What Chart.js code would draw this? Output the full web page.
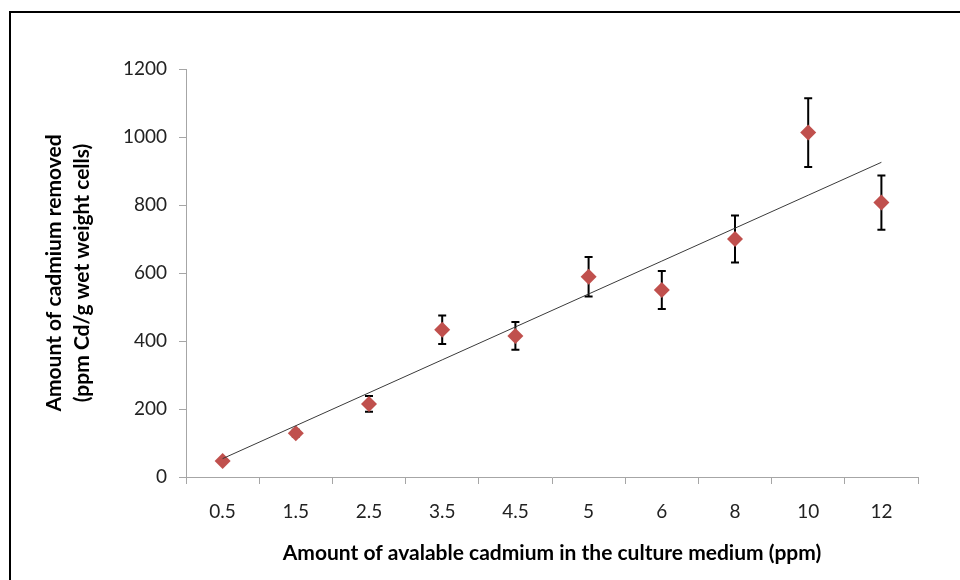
<!DOCTYPE html>
<html>
<head>
<meta charset="utf-8">
<script src="https://cdn.jsdelivr.net/npm/chart.js@4.4.1/dist/chart.umd.min.js"></script>
<style>
  html, body { margin: 0; padding: 0; background: #fff; }
  #wrap { position: relative; width: 960px; height: 580px; }
  #frame { position: absolute; left: 9px; top: 11px; width: 960px; height: 580px;
           border-left: 2px solid #000; border-top: 2px solid #000; pointer-events: none; }
  canvas { position: absolute; left: 0; top: 0; }
</style>
</head>
<body>
<div id="wrap">
  <canvas id="mycanvas" width="960" height="580"></canvas>
  <div id="frame"></div>
</div>
<script>
// cadmium offered (ppm) and removed (ppm Cd/g wet weight cells)
var doses = ['0.5', '1.5', '2.5', '3.5', '4.5', '5', '6', '8', '10', '12'];
var removed = [47, 129, 215, 433, 415, 589, 550, 700, 1013, 807];
var errors = [6, 10, 23, 42, 41, 58, 56, 69, 101, 80];
var yTicks = [0, 200, 400, 600, 800, 1000, 1200];

// least squares line over the category positions 1..n
function trend(values) {
  var n = values.length, sx = 0, sy = 0, sxx = 0, sxy = 0;
  for (var i = 0; i < n; i++) {
    var x = i + 1;
    sx += x; sy += values[i]; sxx += x * x; sxy += x * values[i];
  }
  var slope = (n * sxy - sx * sy) / (n * sxx - sx * sx);
  var icpt = (sy - slope * sx) / n;
  return values.map(function(v, i) { return icpt + slope * (i + 1); });
}

var errorBars = {
  id: 'errorBars',
  beforeDatasetsDraw: function(chart) {
    var ctx = chart.ctx;
    var meta = chart.getDatasetMeta(1);
    var yScale = chart.scales.y;
    ctx.save();
    ctx.strokeStyle = '#000';
    ctx.lineWidth = 2;
    meta.data.forEach(function(pt, i) {
      var top = yScale.getPixelForValue(removed[i] + errors[i]);
      var bot = yScale.getPixelForValue(removed[i] - errors[i]);
      ctx.beginPath();
      ctx.moveTo(pt.x, top); ctx.lineTo(pt.x, bot);
      ctx.moveTo(pt.x - 4, top); ctx.lineTo(pt.x + 4, top);
      ctx.moveTo(pt.x - 4, bot); ctx.lineTo(pt.x + 4, bot);
      ctx.stroke();
    });
    ctx.restore();
  }
};

var font = "Lato, 'Open Sans', sans-serif";
var axisGrey = '#a6a6a6';

var chartdata = {
  labels: doses,
  datasets: [
    {
      data: trend(removed),
      borderColor: '#3a3a3a',
      borderWidth: 1,
      pointRadius: 0,
      fill: false,
      order: 0
    },
    {
      data: removed,
      showLine: false,
      pointStyle: 'rectRot',
      pointRadius: 8,
      backgroundColor: '#c0504d',
      borderColor: '#c0504d',
      borderWidth: 0,
      order: 1
    }
  ]
};

var ctx = document.getElementById('mycanvas');
var graph = new Chart(ctx, {
  type: 'line',
  data: chartdata,
  plugins: [errorBars],
  options: {
    responsive: false,
    animation: false,
    layout: { padding: { left: 0, top: 69, right: 42, bottom: 0 } },
    plugins: { legend: { display: false }, tooltip: { enabled: false } },
    scales: {
      x: {
        offset: true,
        grid: { offset: true, drawOnChartArea: false, drawTicks: true, tickLength: 7, color: axisGrey },
        border: { color: axisGrey, width: 1 },
        ticks: { color: '#222', font: { family: font, size: 19 }, padding: 16, maxRotation: 0 },
        title: {
          display: true,
          text: 'Amount of avalable cadmium in the culture medium (ppm)',
          color: '#000',
          font: { family: font, size: 21, weight: 'bold' },
          padding: { top: 0, bottom: 14 }
        },
        afterFit: function(scale) { scale.height = 103; }
      },
      y: {
        min: 0,
        max: 1200,
        afterBuildTicks: function(scale) {
          scale.ticks = yTicks.map(function(v) { return { value: v }; });
        },
        grid: { drawOnChartArea: false, drawTicks: true, tickLength: 7, color: axisGrey },
        border: { color: axisGrey, width: 1 },
        ticks: {
          color: '#222',
          font: { family: font, size: 19 },
          padding: 12,
          callback: function(v) { return String(v); }
        },
        title: {
          display: true,
          text: ['Amount of cadmium removed', '(ppm Cd/g wet weight cells)'],
          color: '#000',
          font: { family: font, size: 21, weight: 'bold', lineHeight: 1.3 },
          padding: { top: 41, bottom: 0 }
        },
        afterFit: function(scale) { scale.width = 186; }
      }
    }
  }
});
</script>
</body>
</html>
